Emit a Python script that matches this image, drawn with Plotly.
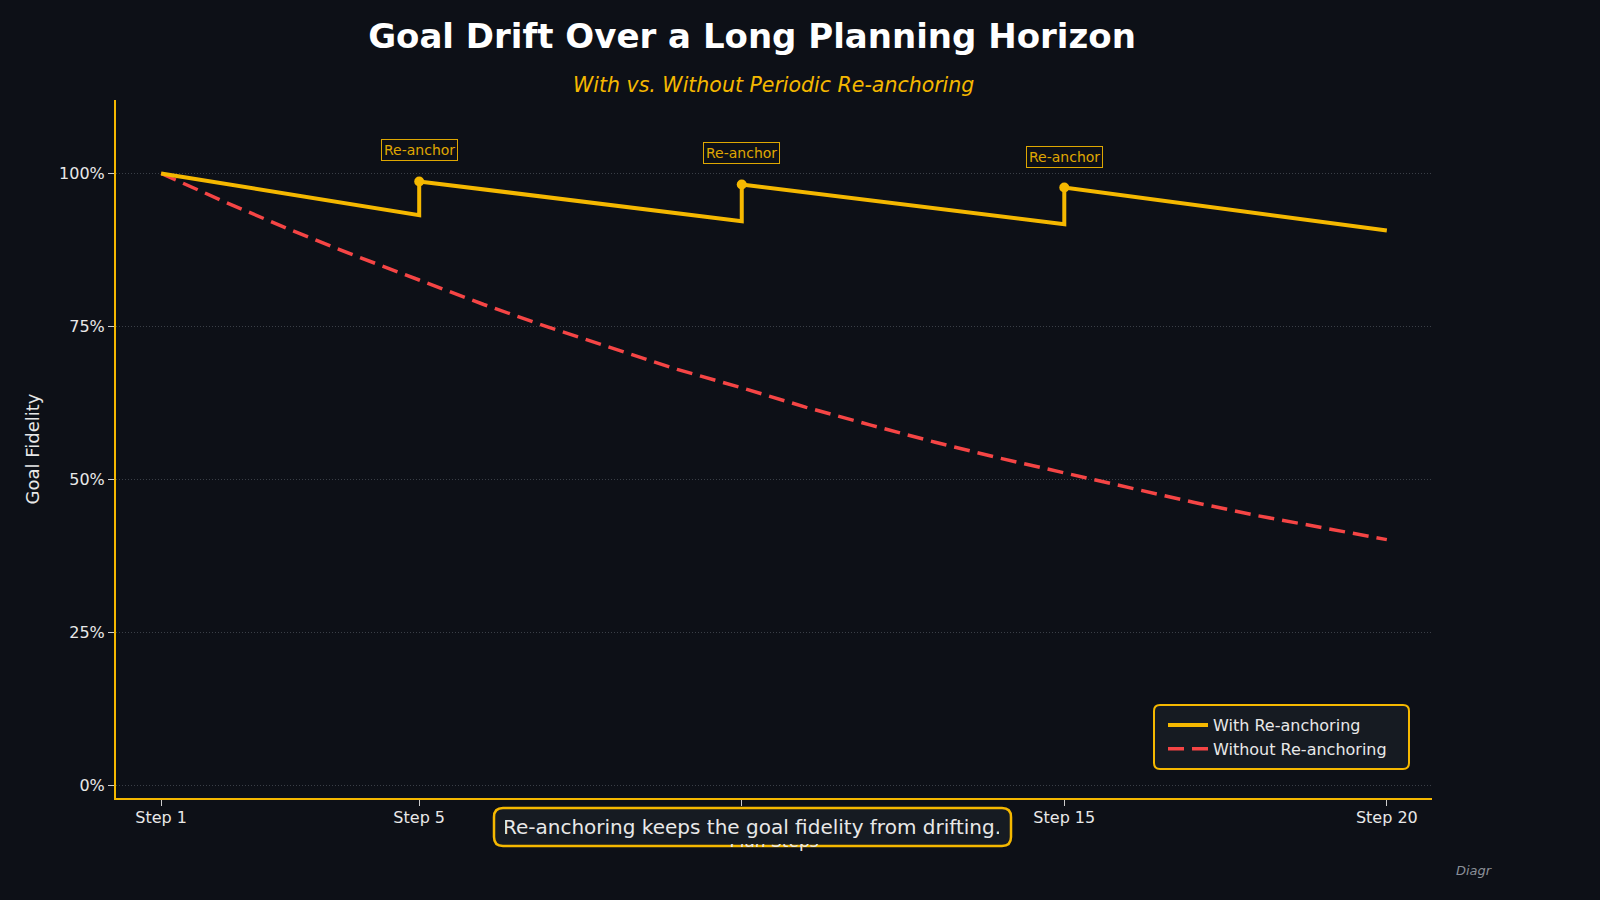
import plotly.graph_objects as go

# ---- data ----
with_steps = [1, 5, 5, 10, 10, 15, 15, 20]
with_vals = [1.000, 0.932, 0.987, 0.922, 0.982, 0.917, 0.977, 0.907]

without_steps = list(range(1, 21))
without_vals = [1.000, 0.953, 0.908, 0.866, 0.826, 0.786, 0.749, 0.714, 0.680, 0.650,
                0.618, 0.589, 0.561, 0.535, 0.511, 0.486, 0.463, 0.441, 0.421, 0.402]

anchor_steps = [5, 10, 15]
anchor_vals = [0.987, 0.982, 0.977]

tick_steps = [1, 5, 10, 15, 20]
tick_labels = ["Step 1", "Step 5", "Step 10", "Step 15", "Step 20"]
y_ticks = [0, 0.25, 0.5, 0.75, 1.0]
y_labels = ["0%", "25%", "50%", "75%", "100%"]

BG = "#0d1017"
GOLD = "#f5b800"
RED = "#f54545"
PANEL = "#161b22"
TXT = "#e8e8e8"
FONT = "DejaVu Sans"

# plot area in pixels
L, R, T, B = 116, 1432, 100, 798
W, H = R - L, B - T


def px(x):
    return (x - L) / W


def py(y):
    return (B - y) / H


def rounded_rect(x0, y0, x1, y1, r):
    pts = []
    pts.append(f"M{px(x0 + r)},{py(y0)}")
    pts.append(f"L{px(x1 - r)},{py(y0)}")
    pts.append(f"Q{px(x1)},{py(y0)} {px(x1)},{py(y0 + r)}")
    pts.append(f"L{px(x1)},{py(y1 - r)}")
    pts.append(f"Q{px(x1)},{py(y1)} {px(x1 - r)},{py(y1)}")
    pts.append(f"L{px(x0 + r)},{py(y1)}")
    pts.append(f"Q{px(x0)},{py(y1)} {px(x0)},{py(y1 - r)}")
    pts.append(f"L{px(x0)},{py(y0 + r)}")
    pts.append(f"Q{px(x0)},{py(y0)} {px(x0 + r)},{py(y0)}")
    pts.append("Z")
    return " ".join(pts)


fig = go.Figure()
fig.add_trace(go.Scatter(x=without_steps, y=without_vals, mode="lines",
                         name="Without Re-anchoring",
                         line=dict(color=RED, width=3.5, dash="16px,8px")))
fig.add_trace(go.Scatter(x=with_steps, y=with_vals, mode="lines",
                         name="With Re-anchoring",
                         line=dict(color=GOLD, width=4)))
fig.add_trace(go.Scatter(x=anchor_steps, y=anchor_vals, mode="markers",
                         showlegend=False, marker=dict(color=GOLD, size=10)))

for s, v in zip(anchor_steps, anchor_vals):
    fig.add_annotation(x=s, y=v, text="Re-anchor", showarrow=False, yshift=31,
                       font=dict(family=FONT, size=14, color=GOLD),
                       bgcolor=BG, bordercolor=GOLD, borderwidth=1, borderpad=2,
                       opacity=0.9)

# legend box (rounded)
fig.add_shape(type="path", xref="paper", yref="paper", layer="above",
              path=rounded_rect(1154, 705, 1409, 769, 6),
              fillcolor=PANEL, line=dict(color=GOLD, width=2))

# bottom message box (rounded) + opaque cover that hides what lies beneath
fig.add_shape(type="path", xref="paper", yref="paper", layer="above",
              path=rounded_rect(494, 808, 1011, 846, 9),
              fillcolor=PANEL, line=dict(color=GOLD, width=2.5))
fig.add_annotation(xref="paper", yref="paper", x=px(752), y=py(827),
                   text="Re-anchoring keeps the goal fidelity from drifting.",
                   showarrow=False, font=dict(family=FONT, size=20, color=TXT),
                   bgcolor=PANEL, borderwidth=0, borderpad=0, width=494, height=34,
                   xanchor="center", yanchor="middle")

fig.add_annotation(xref="paper", yref="paper", x=px(1474), y=py(870),
                   text="<i>Diagr</i>", showarrow=False,
                   font=dict(family=FONT, size=13, color="#8a8f98"),
                   xanchor="center", yanchor="middle")

fig.add_annotation(xref="paper", yref="paper", x=px(773), y=py(85),
                   text="<i>With vs. Without Periodic Re-anchoring</i>", showarrow=False,
                   font=dict(family=FONT, size=20.5, color=GOLD),
                   xanchor="center", yanchor="middle")

fig.update_layout(
    width=1600, height=900,
    paper_bgcolor=BG, plot_bgcolor=BG,
    margin=dict(l=L, r=1600 - R, t=T, b=900 - B),
    title=dict(text="<b>Goal Drift Over a Long Planning Horizon</b>",
               x=752 / 1600, xanchor="center", y=1 - 36 / 900, yanchor="middle",
               font=dict(family=FONT, size=34, color="white")),
    font=dict(family=FONT, color=TXT),
    legend=dict(x=px(1163), y=py(708), xanchor="left", yanchor="top",
                bgcolor="rgba(0,0,0,0)", borderwidth=0,
                font=dict(family=FONT, size=16, color=TXT),
                traceorder="reversed", tracegroupgap=0, itemwidth=40),
    xaxis=dict(range=[0.3, 20.7], tickvals=tick_steps, ticktext=tick_labels,
               showgrid=False, zeroline=False, showline=True, linecolor=GOLD, linewidth=2,
               ticks="outside", ticklen=6, tickcolor="#cccccc", tickwidth=1,
               ticklabelstandoff=-2,
               tickfont=dict(family=FONT, size=16, color=TXT),
               title=dict(text="Plan Steps", font=dict(family=FONT, size=17, color=TXT),
                          standoff=9)),
    yaxis=dict(range=[-0.02, 1.12], tickvals=y_ticks, ticktext=y_labels,
               showgrid=True, gridcolor="#3a3f47", griddash="1px,2px", gridwidth=1,
               zeroline=False, showline=True, linecolor=GOLD, linewidth=2,
               ticks="outside", ticklen=6, tickcolor="#cccccc", tickwidth=1,
               tickfont=dict(family=FONT, size=16, color=TXT),
               title=dict(text="Goal Fidelity", font=dict(family=FONT, size=18, color=TXT),
                          standoff=15)),
)

fig.write_html("out.html")
